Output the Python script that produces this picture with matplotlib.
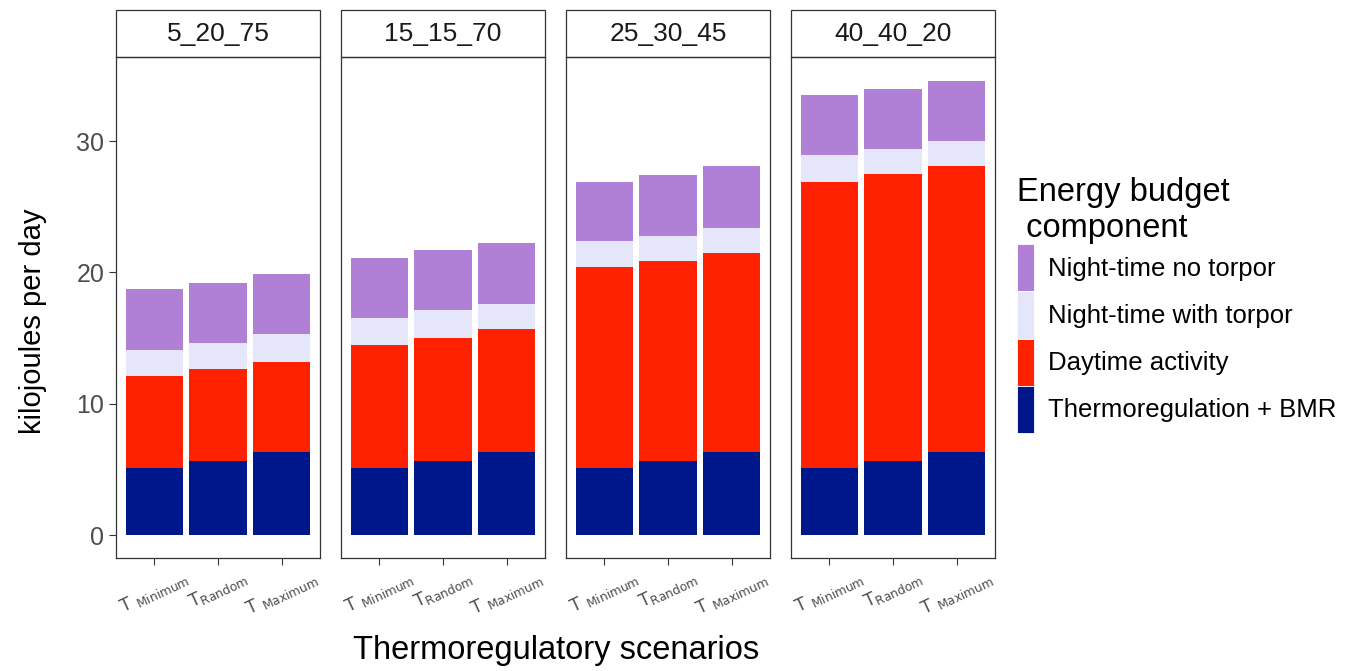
import matplotlib
matplotlib.use("Agg")
import matplotlib.pyplot as plt
from matplotlib.patches import Patch, Rectangle

plt.rcParams['font.family'] = ['Liberation Sans', 'DejaVu Sans']

panels = ["5_20_75", "15_15_70", "25_30_45", "40_40_20"]
scenarios = [r"$\mathrm{T}\ _{\mathrm{Minimum}}$", r"$\mathrm{T}_{\mathrm{Random}}$", r"$\mathrm{T}\ _{\mathrm{Maximum}}$"]

# energy components per panel (kJ/day), one value per scenario
thermo_bmr = [[5.1, 5.65, 6.3], [5.1, 5.65, 6.3], [5.1, 5.65, 6.3], [5.1, 5.65, 6.3]]
daytime = [[7.0, 7.0, 6.9], [9.4, 9.35, 9.4], [15.3, 15.25, 15.2], [21.8, 21.85, 21.8]]
night_torpor = [[2.0, 2.0, 2.1], [2.0, 2.1, 1.9], [2.0, 1.9, 1.9], [2.0, 1.9, 1.9]]
night_no_torpor = [[4.6, 4.55, 4.6], [4.6, 4.6, 4.6], [4.5, 4.6, 4.7], [4.6, 4.6, 4.6]]

comp_names = ["Thermoregulation + BMR", "Daytime activity", "Night-time with torpor", "Night-time no torpor"]
comp_colors = ["#00178B", "#FF2200", "#E6E6FA", "#B07FD6"]

fig, axes = plt.subplots(1, 4, figsize=(13.57, 6.71), dpi=100, sharey=True)
fig.subplots_adjust(left=116/1357, right=995/1357, bottom=1-558/671, top=1-57/671, wspace=0.103)

x = [0, 1, 2]
for i, ax in enumerate(axes):
    bottom = [0, 0, 0]
    for vals, col in zip([thermo_bmr[i], daytime[i], night_torpor[i], night_no_torpor[i]], comp_colors):
        ax.bar(x, vals, width=0.9, bottom=bottom, color=col, linewidth=0)
        bottom = [b + v for b, v in zip(bottom, vals)]
    ax.set_xlim(-0.6, 2.6)
    ax.set_ylim(-1.75, 36.4)
    ax.set_xticks(x)
    ax.set_xticklabels(scenarios, rotation=25, ha='center', fontsize=12.5, color='#4D4D4D')
    ax.tick_params(axis='x', length=5, color='#333333', pad=2)
    for s in ax.spines.values():
        s.set_color('#333333')
        s.set_linewidth(0.9)
    # facet strip
    ax.add_patch(Rectangle((0, 1), 1, 47/501, transform=ax.transAxes, clip_on=False,
                           facecolor='white', edgecolor='#333333', linewidth=0.9))
    ax.text(0.5, 1 + 23.5/501, panels[i], transform=ax.transAxes, ha='center', va='center',
            fontsize=19, color='#1A1A1A')
    if i == 0:
        ax.set_yticks([0, 10, 20, 30])
        ax.tick_params(axis='y', length=5, color='#333333', labelsize=18, labelcolor='#4D4D4D')
    else:
        ax.tick_params(axis='y', left=False, labelleft=False)

fig.text(33/1357, 1-321/671, "kilojoules per day", rotation=90, ha='center', va='center', fontsize=21)
fig.text(556/1357, 1-651/671, "Thermoregulatory scenarios", ha='center', va='center', fontsize=23.5)

handles = [Patch(facecolor=c, edgecolor='white', linewidth=0.6) for c in comp_colors[::-1]]
leg = fig.legend(handles, comp_names[::-1], loc='upper left', bbox_to_anchor=(1007/1357, 1-167/671),
                 frameon=False, fontsize=18.5, title="Energy budget\n component", title_fontsize=23.5,
                 handlelength=0.65, handleheight=2.45, labelspacing=0, handletextpad=0.55,
                 alignment='left', borderaxespad=0)

fig.savefig("out.png", dpi=100)
